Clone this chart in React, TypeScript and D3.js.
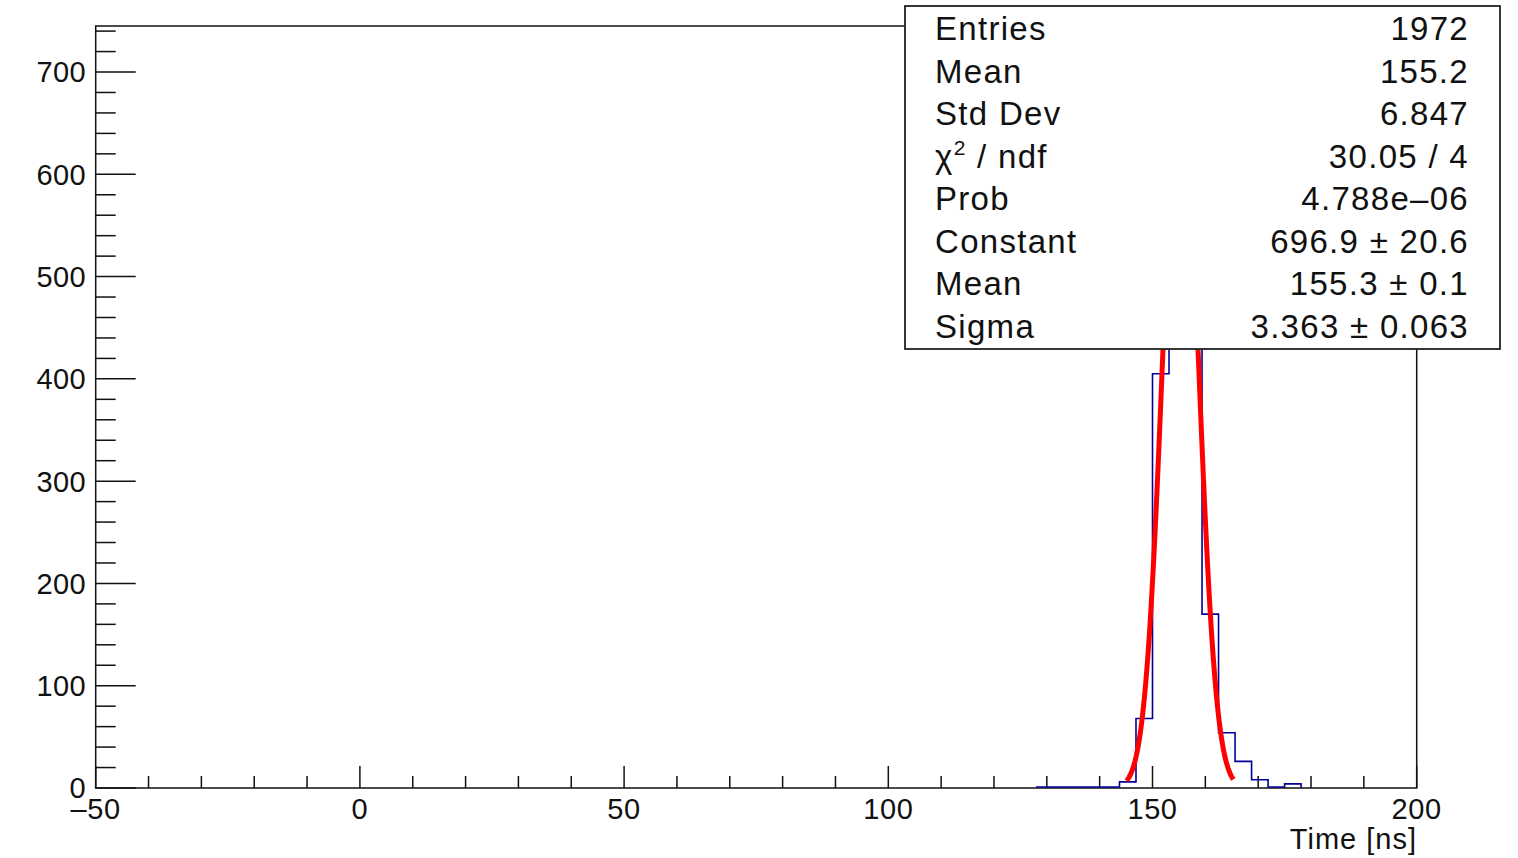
import React from "react";
import * as d3 from "d3";

// histogram: first bin edge, bin width and bin contents
const firstEdge = 128.125;
const binWidth = 3.125;
const counts = [1, 1, 1, 1, 1, 6, 68, 405, 710, 515, 170, 54, 26, 8, 1, 4];

// gaussian fit results shown in the stats box
const fitConstant = 696.9;
const fitMean = 155.3;
const fitSigma = 3.363;
const fitRange = [145.1, 165.3];

const xTickLabels = [-50, 0, 50, 100, 150, 200];
const yTickLabels = [0, 100, 200, 300, 400, 500, 600, 700];

const statLabels = ["Entries", "Mean", "Std Dev", "chi2", "Prob", "Constant", "Mean", "Sigma"];
const statValues = ["1972", "155.2", "6.847", "30.05 / 4", "4.788e\u201306", "696.9 \u00b1 20.6", "155.3 \u00b1 0.1", "3.363 \u00b1 0.063"];

const W = 1518;
const H = 858;
const FONT = "'Liberation Sans', Arial, Helvetica, sans-serif";

export default function App() {
  const x = d3.scaleLinear().domain([-50, 200]).range([95.7, 1416.7]);
  const y = d3.scaleLinear().domain([0, 745]).range([788, 26]);

  // step outline of the histogram
  let histPath = `M${x(firstEdge)},${y(0)}`;
  counts.forEach((c, i) => {
    const x0 = x(firstEdge + i * binWidth);
    const x1 = x(firstEdge + (i + 1) * binWidth);
    histPath += `L${x0},${y(c)}L${x1},${y(c)}`;
  });
  histPath += `L${x(firstEdge + counts.length * binWidth)},${y(0)}`;

  const fitPts = d3.range(0, 101).map((i) => {
    const t = fitRange[0] + ((fitRange[1] - fitRange[0]) * i) / 100;
    return [t, fitConstant * Math.exp(-((t - fitMean) ** 2) / (2 * fitSigma * fitSigma))];
  });
  const fitLine = d3
    .line<number[]>()
    .x((d) => x(d[0]))
    .y((d) => y(d[1]));

  const xMinor = d3.range(-50, 201, 10);
  const yMinor = d3.range(0, 745, 20);

  const box = { x: 905, y: 6, w: 595, h: 343 };
  const rowBase = (i: number) => 40 + i * 42.5;

  return (
    <svg
      width={W}
      height={H}
      style={{ position: "absolute", left: 0, top: 0, background: "#fff" }}
      fontFamily={FONT}
    >
      {/* frame */}
      <rect x={x(-50)} y={y(745)} width={x(200) - x(-50)} height={y(0) - y(745)} fill="none" stroke="#111" strokeWidth={1.5} />

      {/* y ticks */}
      {yMinor.map((v) => (
        <line key={"ym" + v} x1={x(-50)} x2={x(-50) + (v % 100 === 0 ? 40 : 20)} y1={y(v)} y2={y(v)} stroke="#111" strokeWidth={1.5} />
      ))}
      {yTickLabels.map((v) => (
        <text key={"yl" + v} x={86} y={y(v)} dy="0.36em" textAnchor="end" fontSize={29} letterSpacing={0.4} fill="#111">
          {v}
        </text>
      ))}

      {/* x ticks */}
      {xMinor.map((v) => (
        <line key={"xm" + v} x1={x(v)} x2={x(v)} y1={y(0)} y2={y(0) - (v % 50 === 0 ? 22 : 12)} stroke="#111" strokeWidth={1.5} />
      ))}
      {xTickLabels.map((v) => (
        <text key={"xl" + v} x={x(v)} y={819} textAnchor="middle" fontSize={29} letterSpacing={0.6} fill="#111">
          {v < 0 ? "\u2013" + Math.abs(v) : v}
        </text>
      ))}
      <text x={1417} y={849} textAnchor="end" fontSize={29} letterSpacing={1} fill="#111">
        Time [ns]
      </text>

      {/* histogram */}
      <path d={histPath} fill="none" stroke="#000099" strokeWidth={1.6} />

      {/* fit */}
      <path d={fitLine(fitPts) || ""} fill="none" stroke="#ff0000" strokeWidth={5} strokeLinejoin="round" />

      {/* stats box */}
      <rect x={box.x} y={box.y} width={box.w} height={box.h} fill="#fff" stroke="#222" strokeWidth={1.8} />
      {statLabels.map((l, i) => (
        <text key={"sl" + i} x={935} y={rowBase(i)} fontSize={33} letterSpacing={1.3} fill="#111">
          {l === "chi2" ? (
            <>
              {"\u03c7"}
              <tspan fontSize={21} dy={-13}>
                2
              </tspan>
              <tspan dy={13}>{" / ndf"}</tspan>
            </>
          ) : (
            l
          )}
        </text>
      ))}
      {statValues.map((v, i) => (
        <text key={"sv" + i} x={1469} y={rowBase(i)} fontSize={33} letterSpacing={1.3} textAnchor="end" fill="#111">
          {v}
        </text>
      ))}
    </svg>
  );
}
